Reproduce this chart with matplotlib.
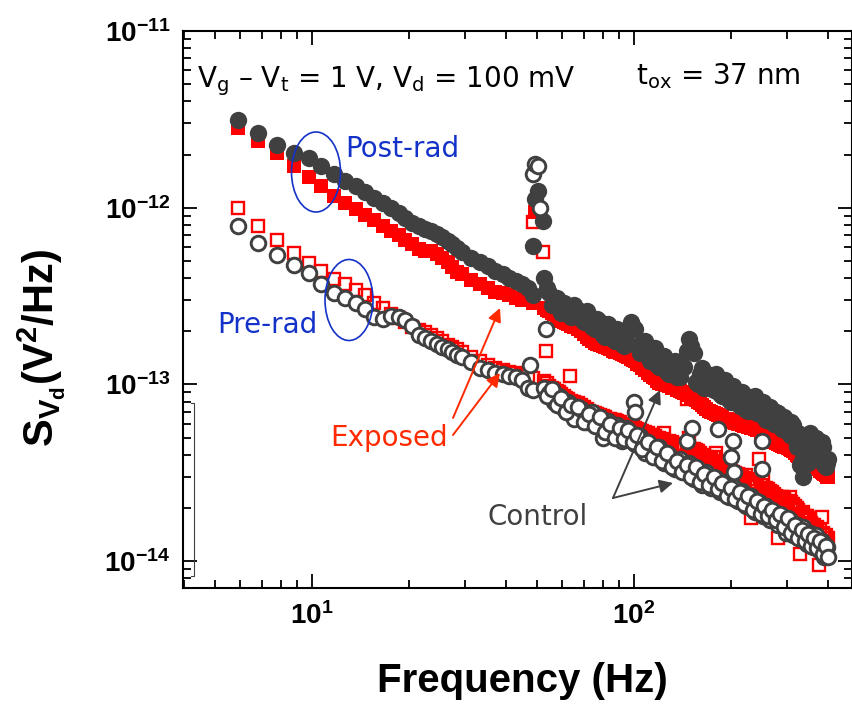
import matplotlib
matplotlib.use("Agg")
import matplotlib.pyplot as plt
from matplotlib.patches import Ellipse
from matplotlib.ticker import FixedLocator, LogLocator, NullFormatter
import numpy as np

plt.rcParams['font.family'] = ['Liberation Sans', 'DejaVu Sans']
plt.rcParams['font.weight'] = 'bold'

# ---------------- data (values in units of 1e-14 V^2/Hz) ----------------
freq_hz = [5.9, 6.8, 7.8, 8.8, 9.8, 10.7, 11.7, 12.7, 13.7, 14.6,
           15.6, 16.6, 17.6, 18.6, 19.5, 20.5, 21.5, 22.5, 23.4, 24.4,
           25.4, 26.4, 27.3, 28.3, 29.3, 31.3, 33.2, 35.2, 37.1, 39.1,
           41.0, 43.0, 44.9, 46.9, 48.8,
           52.7, 54.7, 56.6, 58.6, 60.5, 62.5,
           65.4, 68.4, 71.3, 74.2, 77.1,
           80.1, 83.0, 85.9, 88.9, 91.8,
           94.7, 97.7, 100.6, 104.5, 108.4,
           112.3, 116.2, 120.1, 124.0, 128.9,
           133.8, 138.7, 143.6, 148.4, 153.3,
           158.2, 163.1, 168.0, 173.8, 179.7,
           185.5, 191.4, 197.3, 203.1, 210.0,
           216.8, 223.6, 230.5, 237.3, 244.1,
           251.0, 257.8, 265.6, 273.4, 281.3,
           289.1, 296.9, 304.7, 312.5, 320.3,
           328.1, 335.9, 343.8, 351.6, 359.4,
           367.2, 375.0, 382.8, 390.6, 398.4]

post_control = [314, 264, 226, 205, 191, 173, 155, 142, 133, 122,
                113, 106, 100, 93, 87, 82, 79, 76, 74, 71,
                68, 65, 62, 59, 56, 52, 49, 46.5, 44, 42,
                40, 38.5, 37, 35, 32,
                40, 33, 29, 27, 29, 25,
                28, 23.5, 26, 21, 23.5,
                19, 22, 18, 20.5, 17,
                19, 22.5, 20.5, 15, 17.5,
                13.5, 16, 12.5, 14.5, 11.5,
                13.5, 11, 12.5, 18, 15,
                10, 12.3, 9.5, 11.3, 11.5,
                8.8, 10.6, 8.2, 9.8, 7.8,
                9.0, 7.2, 8.5, 8.6, 6.9,
                7.9, 6.3, 7.4, 6.0, 6.9,
                5.6, 6.3, 5.2, 5.9, 4.4,
                3.5, 3.0, 3.9, 5.3, 4.3,
                5.0, 3.9, 4.7, 3.5, 3.6]

post_exposed = [284, 237, 205, 173, 150, 133, 116, 106, 98, 91,
                85, 79, 74, 70, 66, 62, 58, 57, 57, 55,
                52, 49, 46, 43, 42, 39, 37, 35, 33.5, 33,
                32, 31, 30, 30, 29,
                27, 26, 25, 23, 22.5, 22,
                21, 20, 18.5, 17.5, 17,
                16.5, 16, 15.5, 15.2, 14.8,
                14.5, 14, 13.5, 12.8, 12.0,
                11.3, 10.8, 10.2, 10.0, 9.8,
                9.5, 9.2, 8.9, 8.7, 8.4,
                8.0, 7.6, 7.3, 7.0, 6.8,
                6.6, 6.4, 6.3, 6.1, 6.0,
                5.9, 5.8, 5.7, 5.6, 5.5,
                5.3, 5.1, 4.9, 4.7, 4.6,
                4.5, 4.4, 4.3, 4.2, 4.0,
                3.9, 3.7, 3.6, 3.5, 3.4,
                3.4, 3.3, 3.2, 3.1, 3.0]

pre_exposed = [100, 79, 66, 55.5, 48.5, 44, 39.5, 37, 34.3, 32,
               29, 27, 25, 23.8, 22.5, 21, 20.3, 19.7, 19, 18.3,
               17.5, 16.8, 16.3, 15.8, 15.3, 14.3, 13.5, 12.9, 12.4, 12.1,
               11.8, 11.6, 11.3, 11.2, 10.8,
               10.5, 9.8, 9.4, 9.0, 8.6, 8.3,
               8.0, 7.6, 7.3, 7.0, 6.8,
               6.6, 6.4, 6.3, 6.2, 6.0,
               5.9, 5.8, 5.7, 5.5, 5.4,
               5.2, 5.1, 4.95, 5.3, 4.8,
               4.6, 4.5, 4.6, 5.0, 4.3,
               4.2, 4.0, 3.9, 3.8, 4.1,
               3.6, 3.4, 3.3, 3.2, 3.1,
               3.0, 3.06, 1.75, 2.8, 3.8,
               2.85, 2.6, 2.5, 2.4, 1.35,
               2.3, 2.2, 2.3, 2.1, 2.0,
               1.1, 1.9, 1.8, 1.7, 1.6,
               1.5, 0.95, 1.78, 1.4, 1.3]

pre_control = [79, 63, 54, 47.6, 42.5, 37, 33, 31, 29, 26.8,
               24, 23.5, 24.3, 24, 23, 21.5, 19, 18.3, 17.5, 17,
               16.3, 15.8, 15.2, 14.6, 14.2, 13.4, 12.4, 12.0, 11.6, 11.5,
               11.2, 11.0, 10.6, 9.6, 9.3,
               9.6, 8.9, 8.0, 8.6, 7.3, 7.9,
               6.4, 7.3, 6.1, 7.0, 5.8,
               5.0, 6.2, 5.2, 5.9, 4.8,
               5.7, 5.3, 4.6, 5.1, 4.1,
               4.5, 3.9, 4.4, 3.6, 4.0,
               3.3, 3.8, 3.2, 3.6, 2.9,
               3.3, 2.7, 3.2, 2.6, 2.95,
               2.45, 2.8, 2.3, 2.65, 2.2,
               2.5, 2.05, 2.35, 1.9, 2.15,
               1.8, 2.05, 1.7, 1.9, 1.6,
               1.8, 1.45, 1.7, 1.4, 1.6,
               1.35, 1.55, 1.25, 1.45, 1.2,
               1.4, 1.15, 1.3, 1.05, 1.2]

# intermediate frequency bins above the 50 Hz line (dense region)
freq_hz_mid = [53.7, 55.7, 57.6, 59.6, 61.5, 64.0,
               66.9, 69.8, 72.8, 75.7, 78.6,
               81.5, 84.5, 87.4, 90.3, 93.3,
               96.2, 99.1, 102.5, 106.4, 110.4,
               114.3, 118.2, 122.1, 126.5, 131.3,
               136.2, 141.1, 146.0, 150.9, 155.8,
               160.6, 165.5, 170.9, 176.8, 182.6,
               188.5, 194.3, 200.2, 206.5, 213.4,
               220.2, 227.0, 233.9, 240.7, 247.6,
               254.4, 261.7, 269.5, 277.3, 285.2,
               293.0, 300.8, 308.6, 316.4, 324.2,
               332.0, 339.8, 347.7, 355.5, 363.3,
               371.1, 378.9, 386.7, 394.5, 402.3]

post_control_mid = [35, 28, 31, 25.5, 27.5, 24,
                    26.5, 22.5, 24.5, 20.5, 22.5,
                    18.5, 21, 17.5, 19.5, 16.5,
                    20.5, 21, 16.5, 17, 14.5,
                    15.5, 12.8, 14.5, 11.8, 13.3,
                    11, 12.6, 15.5, 16.5, 10.3,
                    11.5, 9.6, 11, 9.3, 10.5,
                    8.6, 9.8, 8.0, 9.2, 7.5,
                    8.6, 7.1, 8.3, 6.9, 7.8,
                    6.5, 7.4, 6.1, 7.0, 5.8,
                    6.5, 5.4, 6.1, 4.9, 5.3,
                    3.7, 4.4, 3.6, 5.0, 4.0,
                    4.8, 3.8, 4.4, 3.4, 3.8]

post_exposed_mid = [26.5, 25.5, 24, 22.8, 22.2, 21.5,
                    20.5, 19.2, 18, 17.2, 16.8,
                    16.2, 15.8, 15.3, 15, 14.6,
                    14.2, 13.8, 13.1, 12.4, 11.6,
                    11, 10.5, 10.1, 9.9, 9.6,
                    9.3, 9.0, 8.8, 8.5, 8.2,
                    7.8, 7.4, 7.1, 6.9, 6.7,
                    6.5, 6.35, 6.2, 6.05, 5.95,
                    5.85, 5.75, 5.65, 5.55, 5.4,
                    5.2, 5.0, 4.8, 4.65, 4.55,
                    4.45, 4.35, 4.25, 4.1, 3.95,
                    3.8, 3.65, 3.55, 3.45, 3.4,
                    3.35, 3.25, 3.15, 3.05, 3.0]

pre_exposed_mid = [10.2, 9.6, 9.2, 8.8, 8.4, 8.1,
                   7.8, 7.4, 7.1, 6.9, 6.7,
                   6.5, 6.35, 6.25, 6.1, 5.95,
                   5.85, 5.75, 5.6, 5.45, 5.3,
                   5.15, 5.0, 4.9, 4.7, 4.7,
                   4.55, 4.5, 4.4, 4.3, 4.25,
                   4.1, 3.95, 3.85, 3.9, 3.7,
                   3.5, 3.35, 3.25, 3.15, 3.05,
                   2.95, 2.9, 2.8, 2.75, 2.7,
                   2.6, 2.55, 2.45, 2.35, 2.3,
                   2.25, 2.2, 2.15, 2.05, 1.95,
                   1.85, 1.8, 1.75, 1.65, 1.6,
                   1.55, 1.5, 1.45, 1.4, 1.35]

pre_control_mid = [8.6, 9.4, 7.6, 8.4, 7.0, 7.6,
                   7.4, 6.1, 6.8, 5.8, 6.5,
                   5.4, 6.0, 5.0, 5.7, 4.9,
                   5.5, 4.7, 5.2, 4.3, 4.7,
                   3.9, 4.4, 3.7, 4.1, 3.4,
                   3.7, 3.2, 3.5, 3.0, 3.4,
                   2.8, 3.1, 2.7, 3.0, 2.55,
                   2.75, 2.35, 2.6, 2.25, 2.45,
                   2.1, 2.35, 1.95, 2.2, 1.85,
                   2.05, 1.8, 1.95, 1.7, 1.85,
                   1.55, 1.75, 1.45, 1.6, 1.35,
                   1.5, 1.3, 1.42, 1.22, 1.35,
                   1.18, 1.3, 1.1, 1.22, 1.05]

# extra points (50 Hz mains spike and outliers)
post_control_extra_f = [48.6, 49.3, 50.4, 52.1]
post_control_extra_v = [61, 112, 125, 84]
post_exposed_extra_f = [49.3]
post_exposed_extra_v = [95]
pre_exposed_extra_f = [48.6, 52.4, 53.3, 63.2, 146.0]
pre_exposed_extra_v = [83, 56, 15.5, 11.2, 8.3]
pre_control_extra_f = [47.5, 48.8, 49.5, 50.5, 51.0, 53.3, 100.0, 101.0,
                       146.0, 152.0, 183.0, 200.0, 203.0, 205.0, 250.0, 250.0]
pre_control_extra_v = [12.8, 156, 177, 173, 99, 20.7, 8.0, 7.0,
                       4.8, 5.7, 5.6, 3.9, 4.8, 3.2, 4.8, 3.3]

x_major_ticks = [10, 100]
y_major_ticks = [1e-14, 1e-13, 1e-12, 1e-11]

unit = 1e-14

for s in (post_control, post_exposed, pre_exposed, pre_control):
    assert len(s) == len(freq_hz), len(s)
for s in (post_control_mid, post_exposed_mid, pre_exposed_mid, pre_control_mid):
    assert len(s) == len(freq_hz_mid), len(s)

GREY = '#404040'
RED = '#ff0000'
BLUE = '#1432c8'
ORANGE = '#ff2a00'

fig = plt.figure(figsize=(8.53, 7.09), dpi=100)
W, H = 853, 709
L, R, T, B = 183, 852, 31, 588
ax = fig.add_axes([L / W, 1 - B / H, (R - L) / W, (B - T) / H])
ax.set_xscale('log')
ax.set_yscale('log')
ax.set_xlim(3.98, 476)
ax.set_ylim(7.04e-15, 1.0e-11)

def series(main, mid, fe, ve):
    f = list(freq_hz) + list(freq_hz_mid) + list(fe)
    v = list(main) + list(mid) + list(ve)
    return np.array(f), np.array(v) * unit

x, y = series(pre_exposed, pre_exposed_mid, pre_exposed_extra_f, pre_exposed_extra_v)
ax.plot(x, y, ls='none', marker='s', ms=9.0, mfc='none', mec=RED, mew=1.7, zorder=2)
x, y = series(post_exposed, post_exposed_mid, post_exposed_extra_f, post_exposed_extra_v)
ax.plot(x, y, ls='none', marker='s', ms=10.5, mfc=RED, mec=RED, mew=0, zorder=3)
x, y = series(post_control, post_control_mid, post_control_extra_f, post_control_extra_v)
ax.plot(x, y, ls='none', marker='o', ms=12.5, mfc=GREY, mec=GREY, mew=0, zorder=4)
x, y = series(pre_control, pre_control_mid, pre_control_extra_f, pre_control_extra_v)
ax.plot(x, y, ls='none', marker='o', ms=10.5, mfc='white', mec=GREY, mew=2.1, zorder=5)

# axes styling
ax.xaxis.set_major_locator(FixedLocator(x_major_ticks))
ax.yaxis.set_major_locator(FixedLocator(y_major_ticks))
ax.xaxis.set_major_formatter(matplotlib.ticker.FixedFormatter(
    [r'$\mathdefault{10^{1}}$', r'$\mathdefault{10^{2}}$']))
ax.yaxis.set_major_formatter(matplotlib.ticker.FixedFormatter(
    [r'$\mathdefault{10^{-14}}$', r'$\mathdefault{10^{-13}}$',
     r'$\mathdefault{10^{-12}}$', r'$\mathdefault{10^{-11}}$']))
ax.xaxis.set_minor_locator(LogLocator(base=10, subs=np.arange(2, 10), numticks=20))
ax.yaxis.set_minor_locator(LogLocator(base=10, subs=np.arange(2, 10), numticks=20))
ax.xaxis.set_minor_formatter(NullFormatter())
ax.yaxis.set_minor_formatter(NullFormatter())

for sp in ax.spines.values():
    sp.set_linewidth(1.5)
ax.tick_params(which='both', direction='in', top=True, right=True, width=1.3)
ax.tick_params(which='major', length=10, labelsize=20, pad=9)
ax.tick_params(which='minor', length=6)
ax.tick_params(axis='x', which='major', pad=10)

ax.set_xlabel('Frequency (Hz)', fontsize=29, fontweight='bold')
ax.xaxis.set_label_coords((522 - L) / (R - L), (B - 662) / (B - T))
fig.text(42 / W, 1 - 348 / H, r'$\mathdefault{S_{V_d}(V^2/Hz)}$', fontsize=30,
         rotation=90, ha='center', va='center')

def af(px, py):
    return ((px - L) / (R - L), (B - py) / (B - T))

txt = dict(family='DejaVu Sans', fontweight='normal', fontsize=20,
           transform=ax.transAxes, va='baseline', zorder=10)
ax.text(*af(197, 87), r'V$_\mathregular{g}$ – V$_\mathregular{t}$ = 1 V, V$_\mathregular{d}$ = 100 mV',
        color='black', **txt)
ax.text(*af(636, 84), r't$_\mathregular{ox}$ = 37 nm', color='black', **txt)
ax.text(*af(345, 157), 'Post-rad', color=BLUE, **txt)
ax.text(*af(217, 333), 'Pre-rad', color=BLUE, **txt)
ax.text(*af(330, 446), 'Exposed', color=ORANGE, **txt)
ax.text(*af(488, 525), 'Control', color=GREY, **txt)

for (cx, cy, w, h) in [(316, 172, 49, 80), (349, 300, 48, 81)]:
    ax.add_patch(Ellipse(af(cx, cy), w / (R - L), h / (B - T), transform=ax.transAxes,
                         fill=False, ec=BLUE, lw=1.2, zorder=9))

def arrow(p0, p1, color):
    ax.annotate('', xy=af(*p1), xytext=af(*p0), xycoords='axes fraction',
                textcoords='axes fraction',
                arrowprops=dict(arrowstyle='-|>', color=color, lw=1.4,
                                mutation_scale=20, shrinkA=0, shrinkB=0),
                zorder=9)

arrow((453, 418), (500, 308), ORANGE)
arrow((453, 435), (500, 373), ORANGE)
arrow((613, 498), (660, 390), GREY)
arrow((613, 498), (673, 483), GREY)

# thin bracket at the left edge
bx0, by0 = af(194, 403)
bx1, by1 = af(194, 576)
cx0, _ = af(191, 0)
ax.plot([cx0, bx0, bx1, cx0], [by0, by0, by1, by1], color=GREY, lw=0.8,
        transform=ax.transAxes, clip_on=False, zorder=6)

fig.savefig('out.png', dpi=100)
